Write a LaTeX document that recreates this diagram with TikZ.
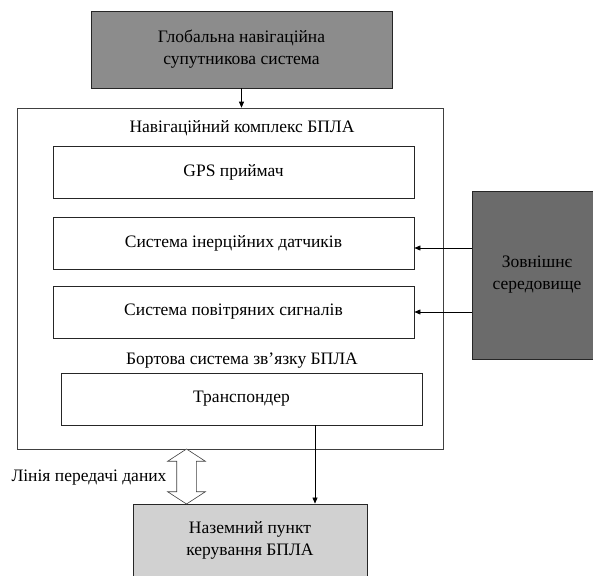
\documentclass[tikz,border=0pt]{standalone}
\usepackage{fontspec}
\setmainfont{Liberation Serif}
\usetikzlibrary{arrows.meta,shapes.arrows}

\begin{document}
\begin{tikzpicture}[x=1pt,y=-1pt,font=\fontsize{17.5}{22}\selectfont,
  blok/.style={draw=black!85,line width=0.9pt,minimum width=361pt,minimum height=52pt,inner sep=0pt},
  sirij/.style={draw=black!85,line width=0.9pt,align=center,inner sep=0pt},
  strilka/.style={-{Triangle[length=6pt,width=5pt]},line width=0.6pt}]
\useasboundingbox (0,0) rectangle (593,575);  % 593 x 575 px
\node[sirij,fill=black!45,minimum width=301pt,minimum height=77pt] (gnss) at (241.5,49.5) {Глобальна навігаційна\\супутникова система};
\node[draw=black!75,line width=0.6pt,minimum width=426pt,minimum height=341pt] (kompleks) at (230,278.5) {};
\node (titul) at (242,128) {Навігаційний комплекс БПЛА};
\node[blok] (gps) at (233.5,172) {GPS приймач};
\node[blok] (imu) at (233.5,243) {Система інерційних датчиків};
\node[blok] (svs) at (233.5,312) {Система повітряних сигналів};
\node (bort) at (242,361) {Бортова система зв’язку БПЛА};
\node[blok] (transp) at (241.5,399) {Транспондер};
\node[sirij,fill=black!58,minimum width=130pt,minimum height=168pt] (seredovyshche) at (537,275) {Зовнішнє\\середовище};
\node[sirij,fill=black!18,minimum width=234pt,minimum height=72pt] (nazemnyj) at (250,540) {Наземний пункт\\керування БПЛА};
\node (linija) at (89,478) {Лінія передачі даних};
% подвійна стрілка між комплексом і наземним пунктом
\node[double arrow,draw=black!75,fill=white,line width=0.6pt,rotate=90,
      minimum height=55pt,minimum width=37pt,inner sep=9.5pt,
      double arrow head extend=9pt,double arrow tip angle=114] (kanal) at (186.5,476.5) {};
\coordinate (imuvhid) at ([yshift=-5pt]imu.east);
\coordinate (tvyhid) at ([xshift=73.5pt]transp.south);
\draw[strilka] (gnss.south) -- (gnss.south |- kompleks.north);
\draw[strilka] (imuvhid -| seredovyshche.west) -- (imuvhid);
\draw[strilka] (svs.east -| seredovyshche.west) -- (svs.east);
\draw[strilka] (tvyhid) -- (tvyhid |- nazemnyj.north);
\end{tikzpicture}
\end{document}
